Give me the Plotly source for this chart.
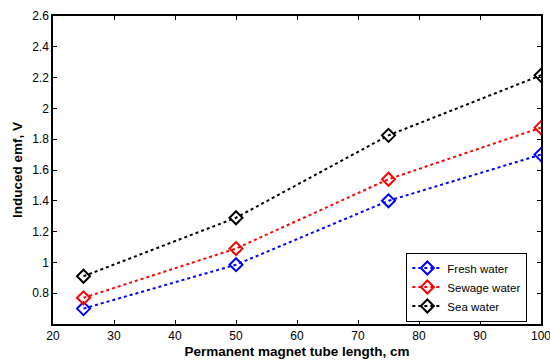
import plotly.graph_objects as go

x_len = [25, 50, 75, 100]
fresh = [0.70, 0.985, 1.40, 1.70]
sewage = [0.77, 1.09, 1.54, 1.875]
sea = [0.91, 1.29, 1.825, 2.215]
series_names = ["Fresh water", "Sewage water", "Sea water"]
colors = ["#0000ff", "#ff0000", "#000000"]
y_ticks = [0.8, 1.0, 1.2, 1.4, 1.6, 1.8, 2.0, 2.2, 2.4, 2.6]
y_tick_text = ["0.8", "1", "1.2", "1.4", "1.6", "1.8", "2", "2.2", "2.4", "2.6"]
x_ticks = [20, 30, 40, 50, 60, 70, 80, 90, 100]

fig = go.Figure()
for name, ys, c in zip(series_names, [fresh, sewage, sea], colors):
    fig.add_trace(go.Scatter(
        x=x_len, y=ys, name=name, mode="lines+markers",
        line=dict(color=c, width=2, dash="dot"),
        marker=dict(symbol="diamond-open", size=10, color=c, line=dict(width=2, color=c)),
    ))

axis_common = dict(
    showline=True, linecolor="black", linewidth=1.5, mirror="ticks",
    ticks="inside", ticklen=4, tickcolor="black", tickwidth=1,
    showgrid=False, zeroline=False, automargin=False,
    ticklabeloverflow="allow",
    tickfont=dict(family="Liberation Sans, Arial", size=12, color="black"),
)

fig.update_layout(
    width=550, height=362,
    margin=dict(l=53, r=9, t=16, b=38),
    paper_bgcolor="white", plot_bgcolor="white",
    font=dict(family="Liberation Sans, Arial", size=12, color="black"),
    xaxis=dict(range=[20, 100], tickvals=x_ticks,
               title=dict(text="<b>Permanent magnet tube length, cm</b>", standoff=4,
                          font=dict(size=13.5)),
               **axis_common),
    yaxis=dict(range=[0.6, 2.6], tickvals=y_ticks, ticktext=y_tick_text,
               title=dict(text="<b>Induced emf, V</b>", standoff=6, font=dict(size=13.5)),
               **axis_common),
    legend=dict(x=0.972, y=0.008, xanchor="right", yanchor="bottom",
                bordercolor="black", borderwidth=1, bgcolor="white",
                font=dict(size=11.5), itemwidth=30, tracegroupgap=0),
    showlegend=True,
)

fig.write_html("out.html")
